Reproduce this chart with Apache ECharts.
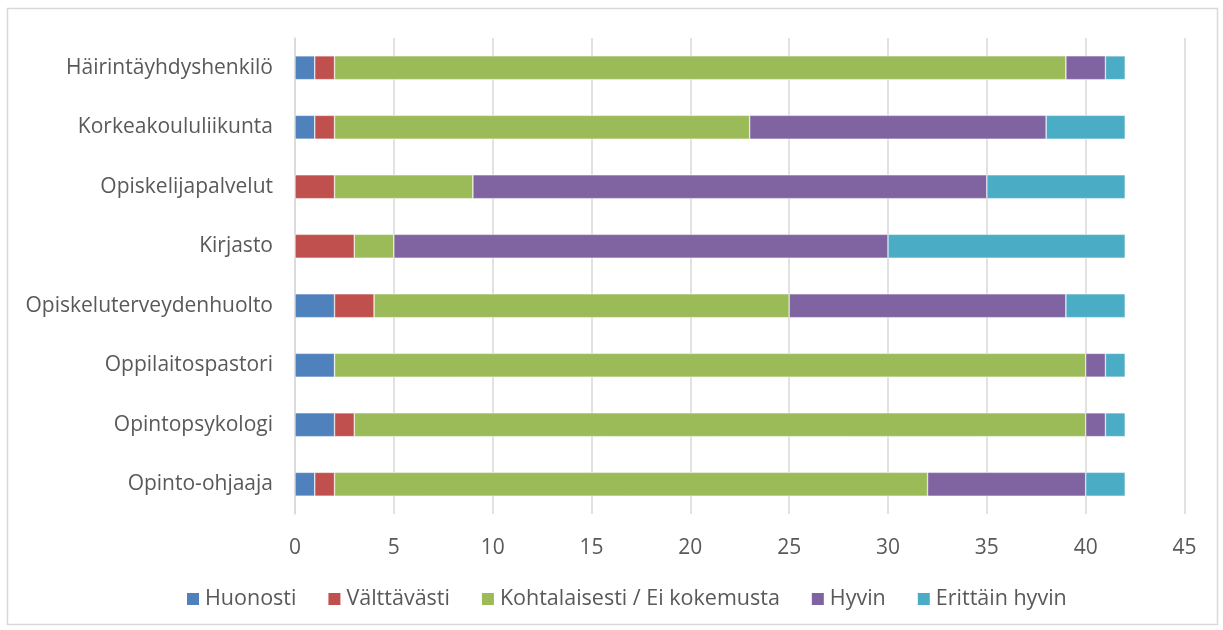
<!DOCTYPE html>
<html><head><meta charset="utf-8">
<script src="https://cdn.jsdelivr.net/npm/echarts@6/dist/echarts.min.js"></script>
<style>html,body{margin:0;padding:0;background:#fff}#c{width:1223px;height:630px}</style>
</head><body><div id="c"></div>
<script>
const categories = ["Häirintäyhdyshenkilö","Korkeakoululiikunta","Opiskelijapalvelut","Kirjasto","Opiskeluterveydenhuolto","Oppilaitospastori","Opintopsykologi","Opinto-ohjaaja"];
const seriesNames = ["Huonosti","Välttävästi","Kohtalaisesti / Ei kokemusta","Hyvin","Erittäin hyvin"];
const huonosti =      [1, 1, 0, 0, 2, 2, 2, 1];
const valttavasti =   [1, 1, 2, 3, 2, 0, 1, 1];
const kohtalaisesti = [37, 21, 7, 2, 21, 38, 37, 30];
const hyvin =         [2, 15, 26, 25, 14, 1, 1, 8];
const erittainHyvin = [1, 4, 7, 12, 3, 1, 1, 2];
const colors = ["#4F81BD","#C0504D","#9BBB59","#8064A2","#4BACC6"];
const allData = [huonosti, valttavasti, kohtalaisesti, hyvin, erittainHyvin];
const font = "Open Sans, Liberation Sans, sans-serif";
const chart = echarts.init(document.getElementById('c'));
chart.setOption({
  animation:false,
  color: colors,
  graphic:[{type:'rect',shape:{x:7.5,y:8.5,width:1210,height:616},style:{fill:'none',stroke:'#D9D9D9',lineWidth:1.5},silent:true}],
  grid:{left:295,right:38.5,top:38,bottom:116},
  legend:{bottom:15,left:180,itemWidth:14,itemHeight:14,itemGap:30,icon:'rect',
    textStyle:{fontSize:21.5,color:'#595959',fontFamily:font},data:seriesNames},
  xAxis:{type:'value',min:0,max:45,interval:5,
    axisLine:{show:false},axisTick:{show:false},
    axisLabel:{fontSize:21,color:'#595959',fontFamily:font,margin:24},
    splitLine:{lineStyle:{color:'#D9D9D9',width:1.5}}},
  yAxis:{type:'category',inverse:true,data:categories,
    axisLine:{show:true,lineStyle:{color:'#D9D9D9',width:1.5}},axisTick:{show:false},
    axisLabel:{fontSize:21,color:'#595959',fontFamily:font,margin:22}},
  series: seriesNames.map((n,i)=>({name:n,type:'bar',stack:'s',barWidth:'40%',
    itemStyle:{borderColor:'#fff',borderWidth:0.5},data:allData[i]}))
});
</script></body></html>
